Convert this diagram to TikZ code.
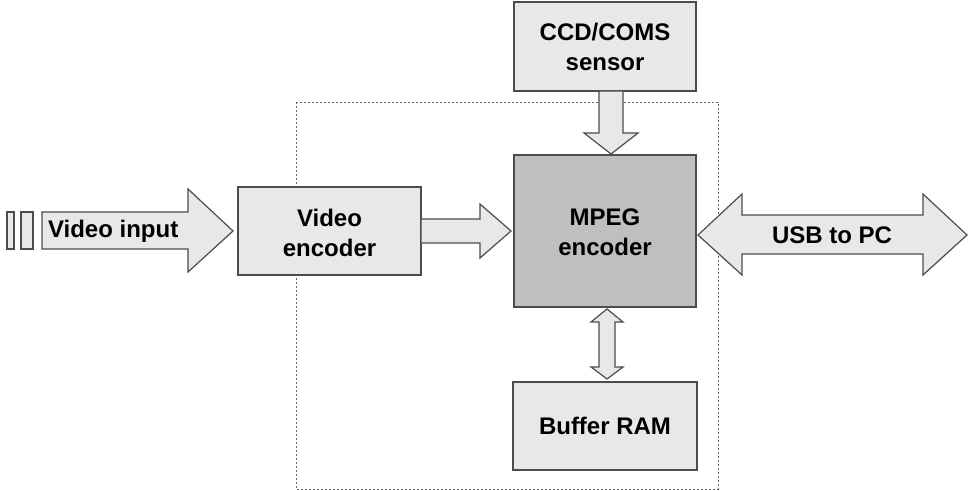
\documentclass[tikz,border=0pt]{standalone}
\usepackage{fontspec}
\setmainfont{Liberation Sans}
\begin{document}
\begin{tikzpicture}[x=0.5pt,y=-0.5pt,
  blk/.style={draw=black!70,line width=0.6pt,fill=black!9},
  mpeg/.style={draw=black!70,line width=0.6pt,fill=black!25},
  barrow/.style={draw=black!70,line width=0.6pt,fill=black!9,line join=miter},
  lbl/.style={font=\bfseries\fontsize{12}{15}\selectfont,align=center,text=black}]
\useasboundingbox (0,0) rectangle (968,491);
% dotted frame
\draw[black!60,line width=0.4pt,dash pattern=on 1.2pt off 0.8pt] (296,102) rectangle (718,489);
% boxes
\draw[blk] (514,2) rectangle (696,91);
\node[lbl] (ccd) at (605,47) {CCD/COMS\\sensor};
\draw[blk] (238,187) rectangle (421,275);
\node[lbl] (venc) at (329.5,233) {Video\\encoder};
\draw[mpeg] (514,155) rectangle (696,307);
\node[lbl] (mpg) at (605,232) {MPEG\\encoder};
\draw[blk] (513,382) rectangle (697,470);
\node[lbl] (ram) at (605,426) {Buffer RAM};
% sensor -> MPEG
\draw[barrow] (599,91) -- (623,91) -- (623,133) -- (638,133) -- (611,154) -- (584,133) -- (599,133) -- cycle;
% video encoder -> MPEG
\draw[barrow] (421,219) -- (480,219) -- (480,204) -- (511,231) -- (480,258) -- (480,243) -- (421,243) -- cycle;
% video input
\draw[barrow] (7,212) rectangle (14,249);
\draw[barrow] (21,212) rectangle (33,249);
\draw[barrow] (42,212) -- (188,212) -- (188,189) -- (233,231) -- (188,272) -- (188,249) -- (42,249) -- cycle;
\node[lbl,anchor=west] (vin) at (41,231) {Video input};
% USB double arrow
\draw[barrow] (698,235) -- (742,194) -- (742,215) -- (923,215) -- (923,194) -- (967,235) -- (923,275) -- (923,254) -- (742,254) -- (742,275) -- cycle;
\node[lbl] (usb) at (832,235) {USB to PC};
% MPEG <-> RAM
\draw[barrow] (607,309) -- (623,322) -- (615,322) -- (615,367) -- (623,367) -- (607,379) -- (591,367) -- (599,367) -- (599,322) -- (591,322) -- cycle;
\end{tikzpicture}
\end{document}
